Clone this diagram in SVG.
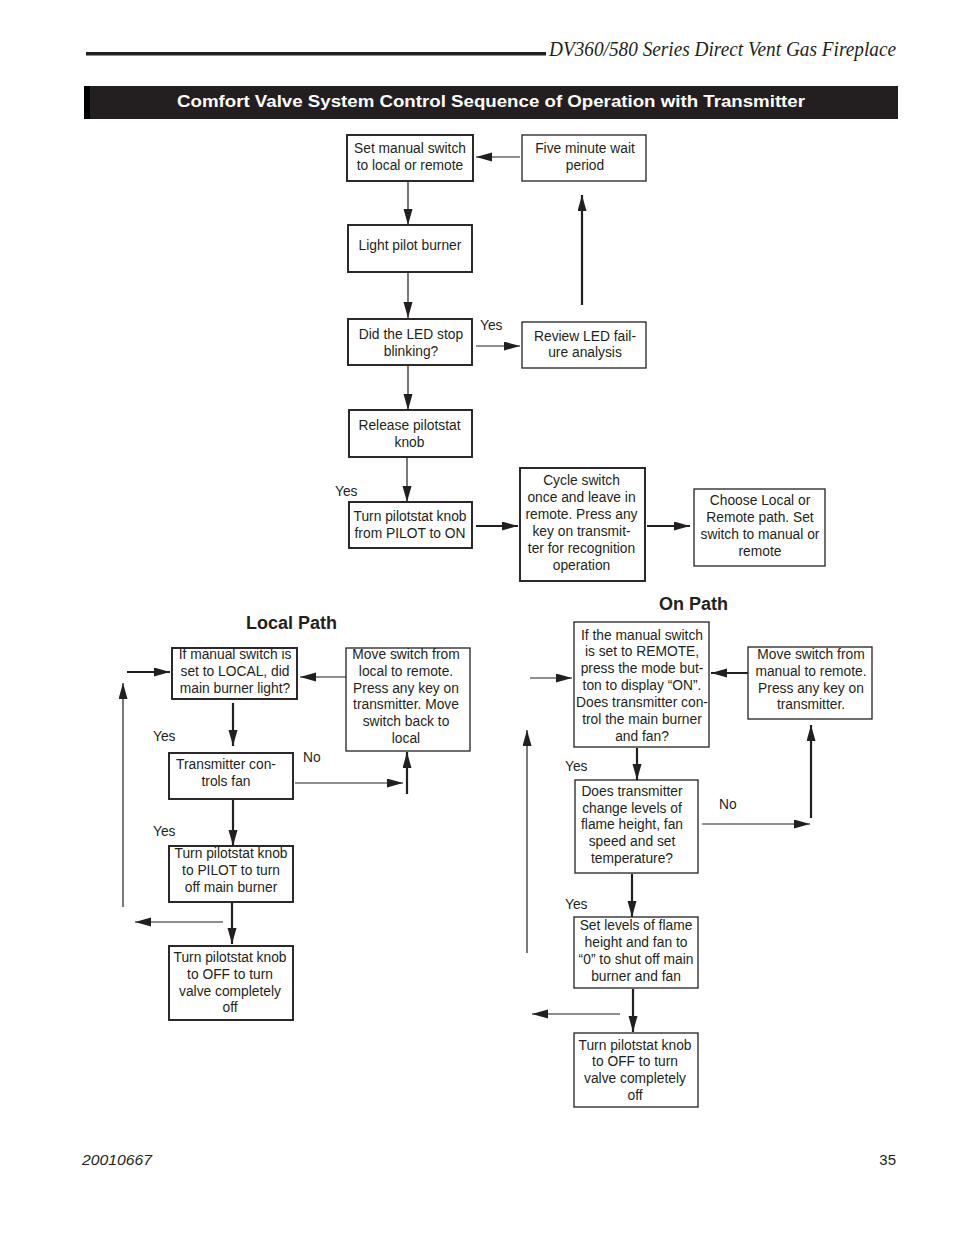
<svg xmlns="http://www.w3.org/2000/svg" width="954" height="1235" viewBox="0 0 954 1235">
<style>
.bg{fill:#ffffff}
.box{fill:#ffffff;stroke:#231f20;stroke-width:1.9}
.box2{fill:#ffffff;stroke:#231f20;stroke-width:1.3}
.t{font-family:"Liberation Sans",Arial,sans-serif;font-size:13.8px;fill:#231f20;text-anchor:middle}
.l{font-family:"Liberation Sans",Arial,sans-serif;font-size:13.8px;fill:#231f20}
.h{font-family:"Liberation Sans",Arial,sans-serif;font-size:18px;font-weight:bold;fill:#231f20;text-anchor:middle}
.thin{stroke:#231f20;stroke-width:1.2;fill:none;marker-end:url(#ah)}
.thick{stroke:#231f20;stroke-width:2.2;fill:none;marker-end:url(#ah)}
.plain{stroke:#231f20;stroke-width:1.2;fill:none}
</style>
<defs>
<marker id="ah" markerUnits="userSpaceOnUse" markerWidth="17" markerHeight="10" refX="16" refY="4.5" orient="auto">
<path d="M0,0 L16,4.5 L0,9 z" fill="#231f20"/>
</marker>
</defs>
<rect class="bg" x="0" y="0" width="954" height="1235"/>

<g id="header">
<rect x="86" y="52" width="460" height="3.5" fill="#231f20"/>
<text x="549" y="56" font-family="'Liberation Serif','Times New Roman',serif" font-style="italic" font-size="20" fill="#231f20" textLength="347" lengthAdjust="spacingAndGlyphs">DV360/580 Series Direct Vent Gas Fireplace</text>
<rect x="84" y="86" width="814" height="33" fill="#231f20"/>
<rect x="84" y="86" width="6" height="33" fill="#000000"/>
<text x="491" y="107" font-family="'Liberation Sans',Arial,sans-serif" font-weight="bold" font-size="17" fill="#ffffff" text-anchor="middle" textLength="628" lengthAdjust="spacingAndGlyphs">Comfort Valve System Control Sequence of Operation with Transmitter</text>
</g>

<g id="connectors">
<line class="thin" x1="520" y1="157" x2="476" y2="157"/>
<line class="thin" x1="408" y1="181" x2="408" y2="225"/>
<line class="thin" x1="408" y1="273" x2="408" y2="318"/>
<line class="thin" x1="476" y1="346" x2="520" y2="346"/>
<line class="thick" x1="582" y1="305" x2="582" y2="195"/>
<line class="thin" x1="408" y1="366" x2="408" y2="410"/>
<line class="thin" x1="407" y1="458" x2="407" y2="502"/>
<line class="thick" x1="476" y1="526" x2="518" y2="526"/>
<line class="thick" x1="647" y1="526" x2="690" y2="526"/>

<line class="thick" x1="127" y1="672" x2="170" y2="672"/>
<line class="thin" x1="123" y1="907" x2="123" y2="683"/>
<line class="thin" x1="347" y1="677" x2="300" y2="677"/>
<line class="thick" x1="233" y1="703" x2="233" y2="746"/>
<line class="thin" x1="295" y1="783" x2="403" y2="783"/>
<line class="thick" x1="407" y1="794" x2="407" y2="752"/>
<line class="thick" x1="233" y1="800" x2="233" y2="846"/>
<line class="thick" x1="232" y1="903" x2="232" y2="944"/>
<line class="thin" x1="223" y1="922" x2="135" y2="922"/>

<line class="thin" x1="530" y1="678" x2="572" y2="678"/>
<line class="thin" x1="527" y1="953" x2="527" y2="730"/>
<line class="thick" x1="748" y1="673" x2="711" y2="673"/>
<line class="thick" x1="637" y1="748" x2="637" y2="780"/>
<line class="thin" x1="702" y1="824" x2="810" y2="824"/>
<line class="thick" x1="811" y1="818" x2="811" y2="725"/>
<line class="thick" x1="632" y1="874" x2="632" y2="917"/>
<line class="thick" x1="633" y1="989" x2="633" y2="1032"/>
<line class="thin" x1="620" y1="1014" x2="532" y2="1014"/>
</g>

<g id="labels">
<text class="l" x="480" y="330">Yes</text>
<text class="l" x="335" y="496">Yes</text>
<text class="l" x="153" y="741">Yes</text>
<text class="l" x="303" y="762">No</text>
<text class="l" x="153" y="836">Yes</text>
<text class="l" x="565" y="771">Yes</text>
<text class="l" x="719" y="809">No</text>
<text class="l" x="565" y="909">Yes</text>
<text class="h" x="291.5" y="629">Local Path</text>
<text class="h" x="693.5" y="610">On Path</text>
</g>

<g id="n-set-manual">
<rect class="box" x="347" y="135" width="126" height="46"/>
<text class="t" x="410" y="153">Set manual switch</text>
<text class="t" x="410" y="170">to local or remote</text>
</g>
<g id="n-five-minute">
<rect class="box2" x="522" y="135" width="124" height="46"/>
<text class="t" x="585" y="153">Five minute wait</text>
<text class="t" x="585" y="170">period</text>
</g>
<g id="n-light-pilot">
<rect class="box" x="348" y="225" width="124" height="47"/>
<text class="t" x="410" y="250">Light pilot burner</text>
</g>
<g id="n-did-led">
<rect class="box" x="348" y="319" width="124" height="46"/>
<text class="t" x="411" y="339">Did the LED stop</text>
<text class="t" x="411" y="356">blinking?</text>
</g>
<g id="n-review-led">
<rect class="box2" x="522" y="322" width="124" height="46"/>
<text class="t" x="585" y="341">Review LED fail-</text>
<text class="t" x="585" y="357">ure analysis</text>
</g>
<g id="n-release">
<rect class="box" x="349" y="410" width="123" height="47"/>
<text class="t" x="409.5" y="430">Release pilotstat</text>
<text class="t" x="409.5" y="447">knob</text>
</g>
<g id="n-turn-on">
<rect class="box" x="349" y="502" width="123" height="46"/>
<text class="t" x="410" y="521">Turn pilotstat knob</text>
<text class="t" x="410" y="538">from PILOT to ON</text>
</g>
<g id="n-cycle">
<rect class="box" x="520" y="468" width="125" height="113"/>
<text class="t" x="581.5" y="485">Cycle switch</text>
<text class="t" x="581.5" y="502">once and leave in</text>
<text class="t" x="581.5" y="519">remote. Press any</text>
<text class="t" x="581.5" y="536">key on transmit-</text>
<text class="t" x="581.5" y="553">ter for recognition</text>
<text class="t" x="581.5" y="570">operation</text>
</g>
<g id="n-choose">
<rect class="box2" x="694" y="489" width="131" height="77"/>
<text class="t" x="760" y="505">Choose Local or</text>
<text class="t" x="760" y="522">Remote path. Set</text>
<text class="t" x="760" y="539">switch to manual or</text>
<text class="t" x="760" y="556">remote</text>
</g>

<g id="n-local-q">
<rect class="box" x="172" y="648" width="125" height="51"/>
<text class="t" x="235" y="659">If manual switch is</text>
<text class="t" x="235" y="676">set to LOCAL, did</text>
<text class="t" x="235" y="693">main burner light?</text>
</g>
<g id="n-local-move">
<rect class="box2" x="346" y="648" width="124" height="103"/>
<text class="t" x="406" y="659">Move switch from</text>
<text class="t" x="406" y="676">local to remote.</text>
<text class="t" x="406" y="693">Press any key on</text>
<text class="t" x="406" y="709">transmitter. Move</text>
<text class="t" x="406" y="726">switch back to</text>
<text class="t" x="406" y="743">local</text>
</g>
<g id="n-local-fan">
<rect class="box" x="169" y="753" width="124" height="46"/>
<text class="t" x="226" y="769">Transmitter con-</text>
<text class="t" x="226" y="786">trols fan</text>
</g>
<g id="n-local-pilot">
<rect class="box" x="169" y="846" width="124" height="56"/>
<text class="t" x="231" y="858">Turn pilotstat knob</text>
<text class="t" x="231" y="875">to PILOT to turn</text>
<text class="t" x="231" y="892">off main burner</text>
</g>
<g id="n-local-off">
<rect class="box" x="169" y="946" width="124" height="74"/>
<text class="t" x="230" y="962">Turn pilotstat knob</text>
<text class="t" x="230" y="979">to OFF to turn</text>
<text class="t" x="230" y="996">valve completely</text>
<text class="t" x="230" y="1012">off</text>
</g>

<g id="n-on-q">
<rect class="box2" x="574" y="622" width="135" height="125"/>
<text class="t" x="642" y="640">If the manual switch</text>
<text class="t" x="642" y="656">is set to REMOTE,</text>
<text class="t" x="642" y="673">press the mode but-</text>
<text class="t" x="642" y="690">ton to display “ON”.</text>
<text class="t" x="642" y="707">Does transmitter con-</text>
<text class="t" x="642" y="724">trol the main burner</text>
<text class="t" x="642" y="741">and fan?</text>
</g>
<g id="n-on-move">
<rect class="box2" x="748" y="647" width="124" height="72"/>
<text class="t" x="811" y="659">Move switch from</text>
<text class="t" x="811" y="676">manual to remote.</text>
<text class="t" x="811" y="693">Press any key on</text>
<text class="t" x="811" y="709">transmitter.</text>
</g>
<g id="n-on-change">
<rect class="box2" x="575" y="780" width="123" height="93"/>
<text class="t" x="632" y="796">Does transmitter</text>
<text class="t" x="632" y="813">change levels of</text>
<text class="t" x="632" y="829">flame height, fan</text>
<text class="t" x="632" y="846">speed and set</text>
<text class="t" x="632" y="863">temperature?</text>
</g>
<g id="n-on-set">
<rect class="box2" x="574" y="917" width="124" height="71"/>
<text class="t" x="636" y="930">Set levels of flame</text>
<text class="t" x="636" y="947">height and fan to</text>
<text class="t" x="636" y="964">“0” to shut off main</text>
<text class="t" x="636" y="981">burner and fan</text>
</g>
<g id="n-on-off">
<rect class="box2" x="574" y="1033" width="124" height="74"/>
<text class="t" x="635" y="1050">Turn pilotstat knob</text>
<text class="t" x="635" y="1066">to OFF to turn</text>
<text class="t" x="635" y="1083">valve completely</text>
<text class="t" x="635" y="1100">off</text>
</g>

<g id="footer">
<text x="82" y="1165" font-family="'Liberation Sans',Arial,sans-serif" font-style="italic" font-size="15" fill="#231f20" textLength="70" lengthAdjust="spacingAndGlyphs">20010667</text>
<text x="896" y="1165" font-family="'Liberation Sans',Arial,sans-serif" font-size="15" fill="#231f20" text-anchor="end">35</text>
</g>
</svg>
